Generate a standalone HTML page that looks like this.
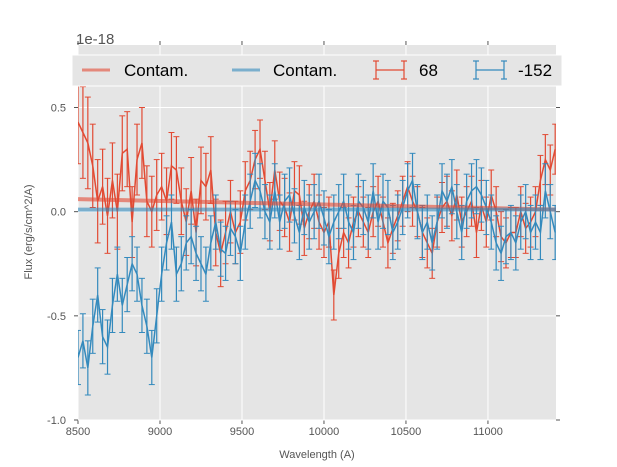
<!DOCTYPE html>
<html><head><meta charset="utf-8"><style>body{margin:0;background:#fff}svg{display:block;font-family:"Liberation Sans",sans-serif}</style></head>
<body>
<svg id="c" width="617" height="467"></svg>
<script>
const wavelengths=[8500,8530,8560,8590,8620,8650,8680,8710,8740,8770,8800,8830,8860,8890,8920,8950,8980,9010,9040,9070,9100,9130,9160,9190,9220,9250,9280,9310,9340,9370,9400,9430,9460,9490,9520,9550,9580,9610,9640,9670,9700,9730,9760,9790,9820,9850,9880,9910,9940,9970,10000,10030,10060,10090,10120,10150,10180,10210,10240,10270,10300,10330,10360,10390,10420,10450,10480,10510,10540,10570,10600,10630,10660,10690,10720,10750,10780,10810,10840,10870,10900,10930,10960,10990,11020,11050,11080,11110,11140,11170,11200,11230,11260,11290,11320,11350,11380,11410];
const fluxRed=[0.43,0.38,0.33,0.22,0.05,0.12,-0.02,0.15,0.0,0.28,0.3,-0.05,0.25,0.33,0.05,0.0,0.08,0.12,0.05,0.22,0.2,0.05,-0.05,0.1,-0.1,0.15,0.12,0.2,-0.1,-0.2,-0.1,0.0,-0.1,-0.05,0.1,0.15,0.25,0.3,0.15,0.0,0.2,0.05,0.02,-0.05,0.1,0.08,-0.08,0.0,0.05,-0.05,-0.1,-0.05,-0.4,-0.2,-0.1,-0.15,-0.05,0.0,-0.05,-0.1,0.0,0.05,-0.05,-0.15,-0.08,-0.02,0.05,0.12,0.05,0.0,-0.1,-0.15,-0.2,-0.05,0.02,0.05,-0.02,0.08,-0.05,0.0,0.05,-0.1,0.03,-0.05,0.08,0.0,-0.12,-0.15,-0.1,-0.1,0.0,-0.08,-0.05,0.0,0.15,0.25,0.2,0.3];
const fluxBlue=[-0.7,-0.62,-0.75,-0.55,-0.4,-0.6,-0.65,-0.45,-0.3,-0.45,-0.35,-0.25,-0.3,-0.45,-0.55,-0.7,-0.5,-0.3,-0.15,-0.05,-0.3,-0.25,-0.15,-0.12,-0.2,-0.25,-0.3,-0.15,-0.05,-0.18,-0.2,-0.08,-0.12,-0.2,-0.05,0.05,0.15,0.1,0.0,-0.05,0.1,-0.05,0.05,0.08,-0.02,-0.1,0.02,-0.05,0.0,0.05,-0.03,-0.12,-0.05,0.0,0.05,-0.05,-0.1,0.05,0.02,-0.05,0.1,-0.05,0.05,0.02,-0.1,-0.05,0.02,0.1,0.15,0.0,-0.1,-0.05,-0.15,-0.05,0.1,0.05,0.12,0.0,-0.1,0.05,0.1,0.12,0.08,0.02,-0.05,-0.15,-0.2,-0.12,-0.1,-0.15,-0.05,0.0,-0.1,-0.05,-0.1,0.1,0.0,-0.1];
const errRed=[0.2,0.22,0.22,0.2,0.2,0.18,0.18,0.18,0.18,0.18,0.18,0.17,0.17,0.17,0.17,0.17,0.17,0.16,0.16,0.16,0.16,0.16,0.16,0.16,0.16,0.16,0.16,0.16,0.16,0.16,0.15,0.15,0.15,0.15,0.14,0.14,0.14,0.14,0.14,0.14,0.14,0.14,0.14,0.14,0.14,0.14,0.13,0.13,0.13,0.13,0.12,0.12,0.12,0.12,0.12,0.12,0.12,0.12,0.12,0.12,0.12,0.12,0.12,0.12,0.12,0.12,0.12,0.12,0.12,0.12,0.12,0.12,0.12,0.12,0.12,0.12,0.12,0.12,0.12,0.12,0.12,0.12,0.12,0.12,0.12,0.12,0.12,0.12,0.12,0.12,0.12,0.12,0.12,0.12,0.12,0.12,0.12,0.12];
const errBlue=0.13;
const contamRed=[0.06,0.01];
const contamBlue=[0.01,0.01];
const xTicks=[8500,9000,9500,10000,10500,11000];
const yTicks=[-1.0,-0.5,0.0,0.5];
const yTickLabels=["-1.0","-0.5","0.0","0.5"];

const L=78,R=556,T=45,B=420,x0=8500,x1=11415,y0=-1.0,y1=0.8;
const X=v=>L+(v-x0)/(x1-x0)*(R-L), Y=v=>B-(v-y0)/(y1-y0)*(B-T);
const svg=document.getElementById('c'),NS='http://www.w3.org/2000/svg';
function el(t,a,p){const e=document.createElementNS(NS,t);for(const k in a)e.setAttribute(k,a[k]);(p||svg).appendChild(e);return e;}
const defs=el('defs',{});const cp=el('clipPath',{id:'clip'},defs);el('rect',{x:L,y:T,width:R-L,height:B-T},cp);
const bg=el('rect',{x:L,y:T,width:R-L,height:B-T,fill:'#e5e5e5'});


xTicks.forEach(t=>{const g=el('line',{x1:X(t),x2:X(t),y1:T,y2:B,stroke:'#fff','stroke-width':1});


el('line',{x1:X(t),x2:X(t),y1:B,y2:B+4,stroke:'#555'});el('line',{x1:X(t),x2:X(t),y1:T,y2:T-4,stroke:'#555'});
const tx=el('text',{x:X(t),y:B+15,'font-size':11,fill:'#555','text-anchor':'middle'});tx.textContent=t;

});
yTicks.forEach((t,i)=>{const g=el('line',{x1:L,x2:R,y1:Y(t),y2:Y(t),stroke:'#fff','stroke-width':1});


el('line',{x1:L-4,x2:L,y1:Y(t),y2:Y(t),stroke:'#555'});el('line',{x1:R,x2:R+4,y1:Y(t),y2:Y(t),stroke:'#555'});
const tx=el('text',{x:L-12,y:Y(t)+4,'font-size':11,fill:'#555','text-anchor':'end'});tx.textContent=yTickLabels[i];

});
const gp=el('g',{'clip-path':'url(#clip)'});
function series(vals,err,color,name){
 const g=el('g',{},gp);
 
 
 let d='';
 vals.forEach((v,i)=>{const x=X(wavelengths[i]),e=Array.isArray(err)?err[i]:err;
  el('line',{x1:x,x2:x,y1:Y(v-e),y2:Y(v+e),stroke:color,'stroke-width':1.2},g);
  el('line',{x1:x-3,x2:x+3,y1:Y(v-e),y2:Y(v-e),stroke:color,'stroke-width':1},g);
  el('line',{x1:x-3,x2:x+3,y1:Y(v+e),y2:Y(v+e),stroke:color,'stroke-width':1},g);
  d+=(i?'L':'M')+x+','+Y(v);});
 el('path',{d:d,fill:'none',stroke:color,'stroke-width':1.5},g);
}
series(fluxRed,errRed,'#e24a33','series-68');
series(fluxBlue,errBlue,'#348abd','series-minus152');
const cr=el('line',{x1:X(x0),x2:X(x1),y1:Y(contamRed[0]),y2:Y(contamRed[1]),stroke:'#e24a33','stroke-width':4,'stroke-opacity':0.6},gp);


const cb=el('line',{x1:X(x0),x2:X(x1),y1:Y(contamBlue[0]),y2:Y(contamBlue[1]),stroke:'#348abd','stroke-width':4,'stroke-opacity':0.6},gp);


</script>
<svg width="617" height="467" style="position:absolute;left:0;top:0">
 <text x="76" y="44" font-size="15" fill="#555">1e-18</text>
 <text x="317" y="458" font-size="11" fill="#555" text-anchor="middle">Wavelength (A)</text>
 <text transform="translate(32,232) rotate(-90)" font-size="11" fill="#555" text-anchor="middle">Flux (erg/s/cm^2/A)</text>
 <g>
  <rect x="72" y="55" width="490" height="31" fill="#e5e5e5" stroke="#fff" stroke-width="1"/>
  <line x1="82" x2="110" y1="70" y2="70" stroke="#e24a33" stroke-width="3" stroke-opacity="0.6"/>
  <text x="124" y="76" font-size="17" fill="#000">Contam.</text>
  <line x1="232" x2="260" y1="70" y2="70" stroke="#348abd" stroke-width="3" stroke-opacity="0.6"/>
  <text x="273" y="76" font-size="17" fill="#000">Contam.</text>
  <g stroke="#e24a33" stroke-width="1.2"><line x1="376" x2="404" y1="70" y2="70"/><line x1="376" x2="376" y1="61" y2="79"/><line x1="404" x2="404" y1="61" y2="79"/><line x1="373" x2="379" y1="61" y2="61"/><line x1="373" x2="379" y1="79" y2="79"/><line x1="401" x2="407" y1="61" y2="61"/><line x1="401" x2="407" y1="79" y2="79"/></g>
  <text x="419" y="76" font-size="17" fill="#000">68</text>
  <g stroke="#348abd" stroke-width="1.2"><line x1="476" x2="504" y1="70" y2="70"/><line x1="476" x2="476" y1="61" y2="79"/><line x1="504" x2="504" y1="61" y2="79"/><line x1="473" x2="479" y1="61" y2="61"/><line x1="473" x2="479" y1="79" y2="79"/><line x1="501" x2="507" y1="61" y2="61"/><line x1="501" x2="507" y1="79" y2="79"/></g>
  <text x="518" y="76" font-size="17" fill="#000">-152</text>
 </g>
</svg>
</body></html>
